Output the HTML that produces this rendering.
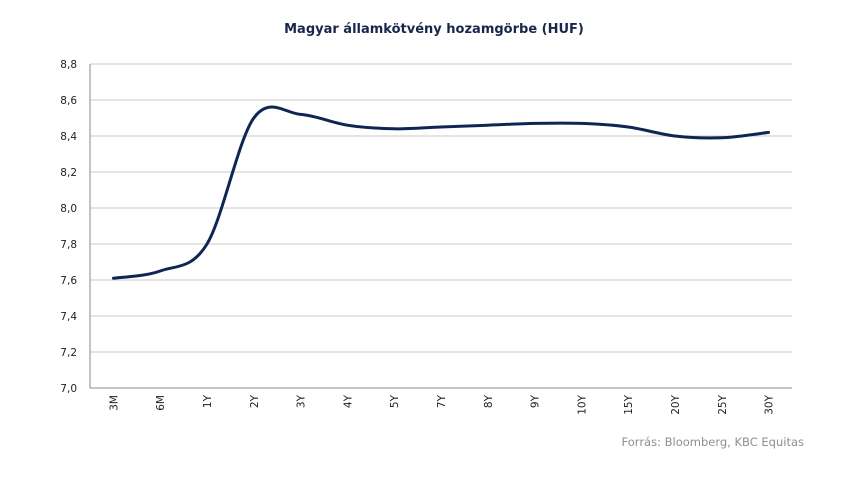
<!DOCTYPE html>
<html><head><meta charset="utf-8"><style>
body{margin:0;background:#fff;}
svg text{font-family:"DejaVu Sans","Liberation Sans",sans-serif;}
</style></head><body>
<svg width="850" height="474" viewBox="0 0 850 474">
<text x="434" y="33" text-anchor="middle" font-size="13" font-weight="bold" fill="#17264a">Magyar államkötvény hozamgörbe (HUF)</text>
<g id="grid"></g>
<g id="yt"></g>
<g id="xt"></g>
<path id="line" fill="none" stroke="#0f2652" stroke-width="3" stroke-linejoin="round" stroke-linecap="round"/>
<text x="804" y="446" text-anchor="end" font-size="11.5" fill="#8f8f8f">Forrás: Bloomberg,  KBC Equitas</text>
</svg>
<script>
const categories=["3M","6M","1Y","2Y","3Y","4Y","5Y","7Y","8Y","9Y","10Y","15Y","20Y","25Y","30Y"];
const yields=[7.61,7.65,7.80,8.50,8.52,8.46,8.44,8.45,8.46,8.47,8.47,8.45,8.40,8.39,8.42];
const yTicks=[7.0,7.2,7.4,7.6,7.8,8.0,8.2,8.4,8.6,8.8];
const X0=90,X1=792,Y0=388,Y1=64,ymin=7.0,ymax=8.8;
const bw=(X1-X0)/categories.length;
const xs=i=>X0+bw*(i+0.5);
const ys=v=>Y0-(v-ymin)/(ymax-ymin)*(Y0-Y1);
const NS="http://www.w3.org/2000/svg";
function mk(t,a,p){const e=document.createElementNS(NS,t);for(const k in a)e.setAttribute(k,a[k]);p.appendChild(e);return e;}
const grid=document.getElementById('grid'),yt=document.getElementById('yt'),xt=document.getElementById('xt');
yTicks.forEach(v=>{
 const l=mk('line',{x1:X0,x2:X1,y1:ys(v),y2:ys(v),stroke:v===ymin?'#888':'#c8c8c8','stroke-width':1},grid);
 
 
 const t=mk('text',{x:X0-13,y:ys(v)+4,'text-anchor':'end','font-size':10.5,fill:'#222'},yt);
 t.textContent=v.toFixed(1).replace('.',',');
 
 
});
const ax=mk('line',{x1:X0,x2:X0,y1:Y1,y2:Y0,stroke:'#888','stroke-width':1},grid);


categories.forEach((c,i)=>{
 const x=xs(i);
 const t=mk('text',{x:0,y:0,'text-anchor':'end','font-size':10.5,fill:'#222',transform:`translate(${x+4},${Y0+7}) rotate(-90)`},xt);
 t.textContent=c;
 
 
});
const pts=yields.map((v,i)=>[xs(i),ys(v)]);
let d=`M${pts[0][0]},${pts[0][1]}`;
for(let i=0;i<pts.length-1;i++){
 const p0=pts[Math.max(0,i-1)],p1=pts[i],p2=pts[i+1],p3=pts[Math.min(pts.length-1,i+2)];
 const c1=[p1[0]+(p2[0]-p0[0])/6,p1[1]+(p2[1]-p0[1])/6];
 const c2=[p2[0]-(p3[0]-p1[0])/6,p2[1]-(p3[1]-p1[1])/6];
 d+=` C${c1[0]},${c1[1]} ${c2[0]},${c2[1]} ${p2[0]},${p2[1]}`;
}
document.getElementById('line').setAttribute('d',d);
</script>
</body></html>
